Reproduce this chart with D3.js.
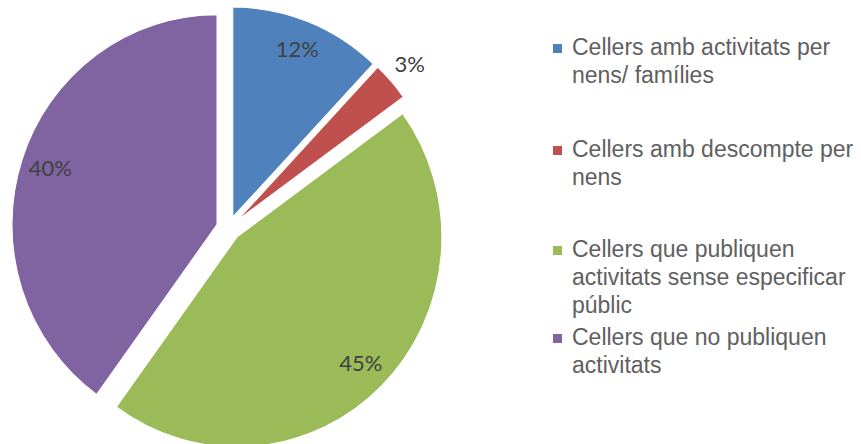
<!DOCTYPE html>
<html>
<head>
<meta charset="utf-8">
<script src="https://cdn.jsdelivr.net/npm/d3@7"></script>
<style>
  body { margin: 0; background: #fff; }
  svg { display: block; }
</style>
</head>
<body>
<svg id="svg1" width="861" height="444"></svg>
<script>
// data
var categories = ["Cellers amb activitats per nens/ famílies", "Cellers amb descompte per nens", "Cellers que publiquen activitats sense especificar públic", "Cellers que no publiquen activitats"];
var values = [12, 3, 45, 40];
var legendLines = [["Cellers amb activitats per", "nens/ famílies"], ["Cellers amb descompte per", "nens"], ["Cellers que publiquen", "activitats sense especificar", "públic"], ["Cellers que no publiquen", "activitats"]];
var colors = ["#4F81BD", "#C0504D", "#9BBB59", "#8064A2"];

var width = 861, height = 444;
var cx = 228.4, cy = 228.4;
var radius = 205;
var stretchY = 1.024;   // picture is a bit taller than wide
var explode = 12;

var svg1 = d3.select('#svg1');

var pie = d3.pie().sort(null).value(function(d){ return d; });
var arcs = pie(values);

var makeArc = d3.arc().innerRadius(0).outerRadius(radius);

function offset(d, r) {
    var a = (d.startAngle + d.endAngle) / 2;
    return [Math.sin(a) * r, -Math.cos(a) * r];
}

var g = svg1.append('g')
    .attr('transform', 'translate(' + cx + ',' + cy + ')scale(1,' + stretchY + ')');

g.selectAll('path.slice')
    .data(arcs)
    .enter()
    .append('path')
    .attr('class', 'slice')
    .attr('d', makeArc)
    .attr('fill', function(d, i){ return colors[i]; })
    .attr('stroke', '#fff')
    .attr('stroke-width', 1)
    .attr('transform', function(d){
        var o = offset(d, explode);
        return 'translate(' + o[0] + ',' + o[1] + ')';
    });

// data labels (outside the stretched group so text is not distorted)
svg1.selectAll('text.lbl')
    .data(arcs)
    .enter()
    .append('text')
    .attr('class', 'lbl')
    .text(function(d){ return d.value + '%'; })
    .attr('transform', function(d){
        var r = d.value < 5 ? radius * 1.12 : radius * 0.855;
        var o = offset(d, explode);
        var p = offset(d, r);
        return 'translate(' + (cx + o[0] + p[0]) + ',' + (cy + (o[1] + p[1]) * stretchY) + ')';
    })
    .attr('dy', '0.33em')
    .style('text-anchor', 'middle')
    .style('font-family', 'Lato, "Open Sans", sans-serif')
    .style('font-size', '22px')
    .style('fill', '#404040');

// legend
var legendTop = [55, 157, 257, 345];
var legend = svg1.append('g');

var items = legend.selectAll('g.item')
    .data(legendLines)
    .enter()
    .append('g')
    .attr('class', 'item')
    .attr('transform', function(d, i){ return 'translate(553,' + legendTop[i] + ')'; });

items.append('rect')
    .attr('x', 0)
    .attr('y', -11)
    .attr('width', 9)
    .attr('height', 9)
    .attr('fill', function(d, i){ return colors[i]; });

items.append('text')
    .attr('x', 19)
    .style('font-family', '"Liberation Sans", Arial, sans-serif')
    .style('font-size', '23px')
    .style('fill', '#606060')
    .selectAll('tspan')
    .data(function(d){ return d; })
    .enter()
    .append('tspan')
    .attr('x', 19)
    .attr('y', function(d, i){ return i * 28; })
    .text(function(d){ return d; });
</script>
</body>
</html>
